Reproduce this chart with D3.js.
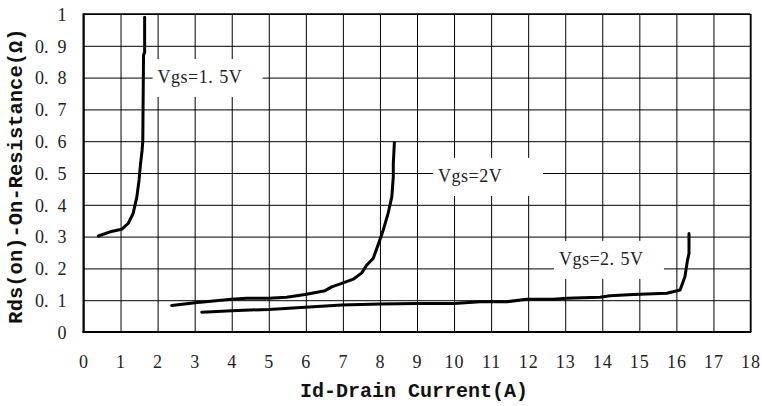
<!DOCTYPE html>
<html>
<head>
<meta charset="utf-8">
<script src="https://cdn.jsdelivr.net/npm/d3@7"></script>
<style>
  html, body { margin: 0; padding: 0; background: #fff; }
  svg { display: block; }
</style>
</head>
<body>
<svg id="chart" width="762" height="406"></svg>
<script>
// ---- data ----
const xTicks = [0,1,2,3,4,5,6,7,8,9,10,11,12,13,14,15,16,17,18];
const yTicks = [0,0.1,0.2,0.3,0.4,0.5,0.6,0.7,0.8,0.9,1];
const yTickLabels = ["0","0.1","0.2","0.3","0.4","0.5","0.6","0.7","0.8","0.9","1"];

const vgs15I = [0.40,0.72,1.03,1.21,1.34,1.44,1.50,1.54,1.58,1.60,1.62,1.65,1.65];
const vgs15R = [0.302,0.315,0.323,0.342,0.373,0.425,0.478,0.53,0.57,0.60,0.87,0.88,0.99];

const vgs2I = [2.38,3.01,4.0,4.4,5.0,5.48,5.98,6.52,6.70,6.97,7.28,7.51,7.64,7.82,7.95,8.09,8.22,8.32,8.36,8.36,8.39];
const vgs2R = [0.083,0.092,0.103,0.106,0.106,0.109,0.118,0.13,0.142,0.153,0.166,0.186,0.21,0.232,0.274,0.321,0.373,0.425,0.488,0.53,0.596];

const vgs25I = [3.19,4.0,5.0,5.98,6.97,8.0,9.0,10.0,10.7,11.42,11.96,12.68,13.04,13.94,14.21,14.84,15.74,16.1,16.23,16.30,16.34,16.34];
const vgs25R = [0.062,0.067,0.071,0.078,0.085,0.088,0.09,0.09,0.095,0.095,0.103,0.103,0.106,0.109,0.114,0.118,0.122,0.132,0.174,0.226,0.247,0.31];

const labelText = ["Vgs=1.5V","Vgs=2V","Vgs=2.5V"];
const labelI = [2.0, 9.57, 12.83];
const labelR = [0.783, 0.472, 0.211];

const xTitle = "Id-Drain Current(A)";
const yTitle = "Rds(on)-On-Resistance(Ω)";

// ---- layout ----
const L = 83.5, R = 750.5, T = 14, B = 332;
const x = d3.scaleLinear().domain([0,18]).range([L,R]);
const y = d3.scaleLinear().domain([0,1]).range([B,T]);

const svg = d3.select("#chart");
const serif = "'Liberation Serif','DejaVu Serif',serif";
const mono = "'Liberation Mono','DejaVu Sans Mono',monospace";

// split text at '.' and add extra gap after dot (wide-dot look)
function dotted(sel, gap) {
  sel.each(function() {
    const t = d3.select(this);
    const s = t.text();
    const i = s.indexOf(".");
    if (i < 0) return;
    t.text(null);
    t.append("tspan").text(s.slice(0, i + 1));
    t.append("tspan").attr("dx", gap).text(s.slice(i + 1));
  });
}

// gridlines via axes
const gx = svg.append("g")
  .attr("transform", `translate(0,${B})`)
  .call(d3.axisBottom(x).tickValues(xTicks).tickSize(-(B - T)).tickFormat(d => d));
gx.select(".domain").remove();
gx.selectAll(".tick line").attr("stroke", "#000").attr("stroke-width", 1);
gx.selectAll(".tick text")
  .attr("y", 36).attr("dy", 0)
  .attr("font-family", serif).attr("font-size", 18).attr("fill", "#222")
  .attr("letter-spacing", 1);

const gy = svg.append("g")
  .attr("transform", `translate(${L},0)`)
  .call(d3.axisLeft(y).tickValues(yTicks).tickSize(-(R - L)).tickFormat((d, i) => yTickLabels[i]));
gy.select(".domain").remove();
gy.selectAll(".tick line").attr("stroke", "#000").attr("stroke-width", 1);
gy.selectAll(".tick text")
  .attr("x", -17).attr("dy", "0.35em")
  .attr("font-family", serif).attr("font-size", 18).attr("fill", "#222");
dotted(gy.selectAll(".tick text"), 9);

// label boxes (white, cover grid)
const labels = svg.append("g");
labelText.forEach((txt, i) => {
  const tx = x(labelI[i]), ty = y(labelR[i]);
  labels.append("rect")
    .attr("x", tx - 5).attr("y", ty - 24)
    .attr("width", 110).attr("height", 38)
    .attr("fill", "#fff");
  const t = labels.append("text")
    .attr("x", tx).attr("y", ty)
    .attr("font-family", serif).attr("font-size", 18).attr("fill", "#222")
    .attr("letter-spacing", 0.5)
    .text(txt);
  dotted(t, 6);
});

// frame
svg.append("line").attr("x1", L).attr("x2", R).attr("y1", T).attr("y2", T).attr("stroke", "#000").attr("stroke-width", 1.5);
svg.append("line").attr("x1", R).attr("x2", R).attr("y1", T).attr("y2", B).attr("stroke", "#000").attr("stroke-width", 1.5);
svg.append("line").attr("x1", L).attr("x2", L).attr("y1", T - 0.75).attr("y2", B + 1).attr("stroke", "#000").attr("stroke-width", 2);
svg.append("line").attr("x1", L - 1).attr("x2", R + 0.75).attr("y1", B).attr("y2", B).attr("stroke", "#000").attr("stroke-width", 2);

// curves
const line = d3.line().x(d => x(d[0])).y(d => y(d[1]));
[[vgs15I, vgs15R], [vgs2I, vgs2R], [vgs25I, vgs25R]].forEach(([I, Rv]) => {
  svg.append("path")
    .datum(I.map((v, k) => [v, Rv[k]]))
    .attr("d", line)
    .attr("fill", "none")
    .attr("stroke", "#000")
    .attr("stroke-width", 3)
    .attr("stroke-linejoin", "round")
    .attr("stroke-linecap", "round");
});

// titles
svg.append("text")
  .attr("x", (L + R) / 2 - 3).attr("y", 397)
  .attr("text-anchor", "middle")
  .attr("font-family", mono).attr("font-weight", "bold").attr("font-size", 20)
  .attr("fill", "#111")
  .text(xTitle);

svg.append("text")
  .attr("transform", `translate(22,${(T + B) / 2 + 3}) rotate(-90)`)
  .attr("text-anchor", "middle")
  .attr("font-family", mono).attr("font-weight", "bold").attr("font-size", 20.5)
  .attr("fill", "#111")
  .text(yTitle);
</script>
</body>
</html>
